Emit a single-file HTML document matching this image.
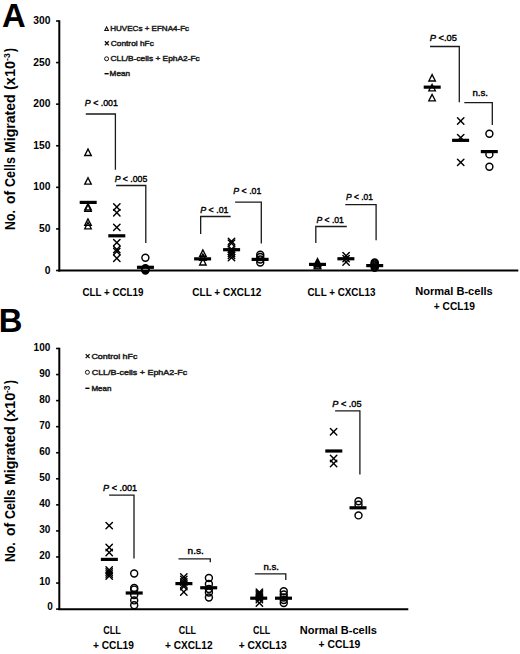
<!DOCTYPE html><html><head><meta charset="utf-8"><style>
html,body{margin:0;padding:0;background:#fff;}svg{display:block;}
text{font-family:"Liberation Sans", sans-serif;fill:#000;}
.ax{stroke:#000;stroke-width:2;fill:none}.tk{stroke:#000;stroke-width:1.6;fill:none}
.br{stroke:#1a1a1a;stroke-width:1.3;fill:none;stroke-linejoin:miter}
.tri{fill:none;stroke:#000;stroke-width:1.35;stroke-linejoin:miter}
.crs{fill:none;stroke:#000;stroke-width:1.45;stroke-linecap:round}
.cir{fill:none;stroke:#000;stroke-width:1.45}
.ltri{fill:none;stroke:#111;stroke-width:1.1}.lcrs{fill:none;stroke:#111;stroke-width:1.3}.lcir{fill:none;stroke:#111;stroke-width:1.0}
.m{fill:#000}
</style></head><body>
<svg width="520" height="654" viewBox="0 0 520 654">
<rect x="0" y="0" width="520" height="654" fill="#fff"/>
<path class="ax" d="M59.3 20.30L59.3 271.5"/>
<path class="ax" d="M58.1 270.6L518.3 270.6"/>
<path class="tk" d="M56.10 270.50L59.30 270.50"/>
<path class="tk" d="M56.10 228.92L59.30 228.92"/>
<path class="tk" d="M56.10 187.33L59.30 187.33"/>
<path class="tk" d="M56.10 145.75L59.30 145.75"/>
<path class="tk" d="M56.10 104.17L59.30 104.17"/>
<path class="tk" d="M56.10 62.58L59.30 62.58"/>
<path class="tk" d="M56.10 21.00L59.30 21.00"/>
<path class="ax" d="M59.3 347.80L59.3 610"/>
<path class="ax" d="M58.1 609.2L408.3 609.2"/>
<path class="tk" d="M56.10 609.10L59.30 609.10"/>
<path class="tk" d="M56.10 583.04L59.30 583.04"/>
<path class="tk" d="M56.10 556.98L59.30 556.98"/>
<path class="tk" d="M56.10 530.92L59.30 530.92"/>
<path class="tk" d="M56.10 504.86L59.30 504.86"/>
<path class="tk" d="M56.10 478.80L59.30 478.80"/>
<path class="tk" d="M56.10 452.74L59.30 452.74"/>
<path class="tk" d="M56.10 426.68L59.30 426.68"/>
<path class="tk" d="M56.10 400.62L59.30 400.62"/>
<path class="tk" d="M56.10 374.56L59.30 374.56"/>
<path class="tk" d="M56.10 348.50L59.30 348.50"/>
<path class="tri" d="M88.00 149.10L84.75 155.50L91.25 155.50Z"/>
<path class="tri" d="M88.00 177.70L84.75 184.10L91.25 184.10Z"/>
<path class="tri" d="M88.00 203.50L84.75 209.90L91.25 209.90Z"/>
<path class="tri" d="M88.00 204.80L84.75 211.20L91.25 211.20Z"/>
<path class="tri" d="M88.00 218.90L84.75 225.30L91.25 225.30Z"/>
<path class="tri" d="M88.00 222.40L84.75 228.80L91.25 228.80Z"/>
<rect class="m" x="79.70" y="200.80" width="17.00" height="3.20"/>
<path class="crs" d="M113.60 203.80L120.00 210.20"/>
<path class="crs" d="M113.60 210.20L120.00 203.80"/>
<path class="crs" d="M113.60 209.60L120.00 216.00"/>
<path class="crs" d="M113.60 216.00L120.00 209.60"/>
<path class="crs" d="M113.60 224.20L120.00 230.60"/>
<path class="crs" d="M113.60 230.60L120.00 224.20"/>
<path class="crs" d="M113.60 239.40L120.00 245.80"/>
<path class="crs" d="M113.60 245.80L120.00 239.40"/>
<path class="crs" d="M113.60 246.30L120.00 252.70"/>
<path class="crs" d="M113.60 252.70L120.00 246.30"/>
<path class="crs" d="M113.60 248.30L120.00 254.70"/>
<path class="crs" d="M113.60 254.70L120.00 248.30"/>
<path class="crs" d="M113.60 255.10L120.00 261.50"/>
<path class="crs" d="M113.60 261.50L120.00 255.10"/>
<rect class="m" x="108.30" y="234.20" width="17.00" height="3.20"/>
<circle class="cir" cx="145.40" cy="257.75" r="3.48"/>
<circle class="cir" cx="145.40" cy="268.20" r="3.48"/>
<circle class="cir" cx="145.40" cy="269.00" r="3.48"/>
<circle class="cir" cx="145.40" cy="269.80" r="3.48"/>
<circle class="cir" cx="145.40" cy="270.60" r="3.48"/>
<rect class="m" x="136.95" y="265.70" width="17.00" height="3.20"/>
<path class="br" d="M85.80 114.00L115.40 114.00L115.40 169.80"/>
<path class="br" d="M116.10 185.50L145.80 185.50L145.80 243.00"/>
<path class="tri" d="M202.90 249.90L199.65 256.30L206.15 256.30Z"/>
<path class="tri" d="M202.90 253.90L199.65 260.30L206.15 260.30Z"/>
<path class="tri" d="M202.90 258.60L199.65 265.00L206.15 265.00Z"/>
<rect class="m" x="194.10" y="257.25" width="17.00" height="3.20"/>
<path class="crs" d="M228.30 238.20L234.70 244.60"/>
<path class="crs" d="M228.30 244.60L234.70 238.20"/>
<path class="crs" d="M228.30 240.10L234.70 246.50"/>
<path class="crs" d="M228.30 246.50L234.70 240.10"/>
<path class="crs" d="M228.30 246.00L234.70 252.40"/>
<path class="crs" d="M228.30 252.40L234.70 246.00"/>
<path class="crs" d="M228.30 248.00L234.70 254.40"/>
<path class="crs" d="M228.30 254.40L234.70 248.00"/>
<path class="crs" d="M228.30 250.10L234.70 256.50"/>
<path class="crs" d="M228.30 256.50L234.70 250.10"/>
<path class="crs" d="M228.30 252.10L234.70 258.50"/>
<path class="crs" d="M228.30 258.50L234.70 252.10"/>
<path class="crs" d="M228.30 254.40L234.70 260.80"/>
<path class="crs" d="M228.30 260.80L234.70 254.40"/>
<rect class="m" x="223.10" y="248.10" width="17.00" height="3.20"/>
<circle class="cir" cx="260.25" cy="254.70" r="3.48"/>
<circle class="cir" cx="260.25" cy="257.00" r="3.48"/>
<circle class="cir" cx="260.25" cy="259.50" r="3.48"/>
<circle class="cir" cx="260.25" cy="262.60" r="3.48"/>
<rect class="m" x="251.60" y="257.80" width="17.00" height="3.20"/>
<path class="br" d="M200.65 234.00L200.65 216.50L230.70 216.50"/>
<path class="br" d="M235.10 202.20L261.30 202.20L261.30 243.40"/>
<path class="tri" d="M317.50 258.50L314.25 264.90L320.75 264.90Z"/>
<path class="tri" d="M317.50 259.90L314.25 266.30L320.75 266.30Z"/>
<path class="tri" d="M317.50 261.40L314.25 267.80L320.75 267.80Z"/>
<path class="tri" d="M317.50 262.50L314.25 268.90L320.75 268.90Z"/>
<rect class="m" x="309.00" y="262.80" width="17.00" height="3.20"/>
<path class="crs" d="M342.90 252.60L349.30 259.00"/>
<path class="crs" d="M342.90 259.00L349.30 252.60"/>
<path class="crs" d="M342.90 255.40L349.30 261.80"/>
<path class="crs" d="M342.90 261.80L349.30 255.40"/>
<path class="crs" d="M342.90 258.80L349.30 265.20"/>
<path class="crs" d="M342.90 265.20L349.30 258.80"/>
<rect class="m" x="337.40" y="257.15" width="17.00" height="3.20"/>
<circle class="cir" cx="374.70" cy="262.40" r="3.48"/>
<circle class="cir" cx="374.70" cy="263.50" r="3.48"/>
<circle class="cir" cx="374.70" cy="264.60" r="3.48"/>
<circle class="cir" cx="374.70" cy="265.60" r="3.48"/>
<circle class="cir" cx="374.70" cy="266.60" r="3.48"/>
<circle class="cir" cx="374.70" cy="267.70" r="3.48"/>
<rect class="m" x="366.20" y="264.00" width="17.00" height="3.20"/>
<path class="br" d="M315.80 243.10L315.80 226.50L346.80 226.50"/>
<path class="br" d="M345.30 204.60L376.10 204.60L376.10 240.30"/>
<path class="tri" d="M432.10 74.60L428.85 81.00L435.35 81.00Z"/>
<path class="tri" d="M432.10 84.40L428.85 90.80L435.35 90.80Z"/>
<path class="tri" d="M432.10 94.40L428.85 100.80L435.35 100.80Z"/>
<rect class="m" x="423.70" y="85.55" width="17.00" height="3.20"/>
<path class="crs" d="M457.50 117.80L463.90 124.20"/>
<path class="crs" d="M457.50 124.20L463.90 117.80"/>
<path class="crs" d="M457.50 134.40L463.90 140.80"/>
<path class="crs" d="M457.50 140.80L463.90 134.40"/>
<path class="crs" d="M457.50 159.20L463.90 165.60"/>
<path class="crs" d="M457.50 165.60L463.90 159.20"/>
<rect class="m" x="452.10" y="138.75" width="17.00" height="3.20"/>
<circle class="cir" cx="489.40" cy="133.80" r="3.48"/>
<circle class="cir" cx="489.40" cy="154.40" r="3.48"/>
<circle class="cir" cx="489.40" cy="166.70" r="3.48"/>
<rect class="m" x="480.80" y="150.00" width="17.00" height="3.20"/>
<path class="br" d="M430.00 46.50L459.30 46.50L459.30 102.20"/>
<path class="br" d="M464.30 102.60L492.30 102.60L492.30 125.00"/>
<path class="crs" d="M106.00 522.40L112.40 528.80"/>
<path class="crs" d="M106.00 528.80L112.40 522.40"/>
<path class="crs" d="M106.00 544.30L112.40 550.70"/>
<path class="crs" d="M106.00 550.70L112.40 544.30"/>
<path class="crs" d="M106.00 549.30L112.40 555.70"/>
<path class="crs" d="M106.00 555.70L112.40 549.30"/>
<path class="crs" d="M106.00 566.80L112.40 573.20"/>
<path class="crs" d="M106.00 573.20L112.40 566.80"/>
<path class="crs" d="M106.00 568.80L112.40 575.20"/>
<path class="crs" d="M106.00 575.20L112.40 568.80"/>
<path class="crs" d="M106.00 570.80L112.40 577.20"/>
<path class="crs" d="M106.00 577.20L112.40 570.80"/>
<path class="crs" d="M106.00 572.80L112.40 579.20"/>
<path class="crs" d="M106.00 579.20L112.40 572.80"/>
<rect class="m" x="100.85" y="557.80" width="17.00" height="3.20"/>
<circle class="cir" cx="134.20" cy="573.50" r="3.48"/>
<circle class="cir" cx="134.20" cy="588.00" r="3.48"/>
<circle class="cir" cx="134.20" cy="589.60" r="3.48"/>
<circle class="cir" cx="134.20" cy="595.00" r="3.48"/>
<circle class="cir" cx="134.20" cy="600.40" r="3.48"/>
<circle class="cir" cx="134.20" cy="605.20" r="3.48"/>
<rect class="m" x="125.70" y="591.40" width="17.00" height="3.20"/>
<path class="br" d="M109.10 495.20L134.00 495.20L134.00 558.60"/>
<path class="crs" d="M180.60 573.80L187.00 580.20"/>
<path class="crs" d="M180.60 580.20L187.00 573.80"/>
<path class="crs" d="M180.60 576.30L187.00 582.70"/>
<path class="crs" d="M180.60 582.70L187.00 576.30"/>
<path class="crs" d="M180.60 578.80L187.00 585.20"/>
<path class="crs" d="M180.60 585.20L187.00 578.80"/>
<path class="crs" d="M180.60 581.30L187.00 587.70"/>
<path class="crs" d="M180.60 587.70L187.00 581.30"/>
<path class="crs" d="M180.60 583.30L187.00 589.70"/>
<path class="crs" d="M180.60 589.70L187.00 583.30"/>
<path class="crs" d="M180.60 588.80L187.00 595.20"/>
<path class="crs" d="M180.60 595.20L187.00 588.80"/>
<rect class="m" x="175.40" y="582.00" width="17.00" height="3.20"/>
<circle class="cir" cx="208.90" cy="578.00" r="3.48"/>
<circle class="cir" cx="208.90" cy="584.00" r="3.48"/>
<circle class="cir" cx="208.90" cy="589.00" r="3.48"/>
<circle class="cir" cx="208.90" cy="592.50" r="3.48"/>
<circle class="cir" cx="208.90" cy="597.50" r="3.48"/>
<rect class="m" x="200.20" y="586.15" width="17.00" height="3.20"/>
<path class="br" d="M178.50 558.90L210.30 558.90L210.30 562.30"/>
<path class="crs" d="M256.20 589.10L262.60 595.50"/>
<path class="crs" d="M256.20 595.50L262.60 589.10"/>
<path class="crs" d="M256.20 590.40L262.60 596.80"/>
<path class="crs" d="M256.20 596.80L262.60 590.40"/>
<path class="crs" d="M256.20 591.70L262.60 598.10"/>
<path class="crs" d="M256.20 598.10L262.60 591.70"/>
<path class="crs" d="M256.20 593.10L262.60 599.50"/>
<path class="crs" d="M256.20 599.50L262.60 593.10"/>
<path class="crs" d="M256.20 594.60L262.60 601.00"/>
<path class="crs" d="M256.20 601.00L262.60 594.60"/>
<path class="crs" d="M256.20 596.30L262.60 602.70"/>
<path class="crs" d="M256.20 602.70L262.60 596.30"/>
<path class="crs" d="M256.20 599.80L262.60 606.20"/>
<path class="crs" d="M256.20 606.20L262.60 599.80"/>
<rect class="m" x="250.20" y="596.60" width="17.00" height="3.20"/>
<circle class="cir" cx="283.75" cy="591.30" r="3.48"/>
<circle class="cir" cx="283.75" cy="594.50" r="3.48"/>
<circle class="cir" cx="283.75" cy="597.50" r="3.48"/>
<circle class="cir" cx="283.75" cy="600.00" r="3.48"/>
<circle class="cir" cx="283.75" cy="603.10" r="3.48"/>
<rect class="m" x="275.00" y="596.60" width="17.00" height="3.20"/>
<path class="br" d="M254.80 573.90L285.80 573.90L285.80 580.10"/>
<path class="crs" d="M330.40 428.50L336.80 434.90"/>
<path class="crs" d="M330.40 434.90L336.80 428.50"/>
<path class="crs" d="M330.40 455.30L336.80 461.70"/>
<path class="crs" d="M330.40 461.70L336.80 455.30"/>
<path class="crs" d="M330.40 460.30L336.80 466.70"/>
<path class="crs" d="M330.40 466.70L336.80 460.30"/>
<rect class="m" x="325.30" y="449.40" width="17.00" height="3.20"/>
<circle class="cir" cx="358.50" cy="501.20" r="3.48"/>
<circle class="cir" cx="358.50" cy="504.80" r="3.48"/>
<circle class="cir" cx="358.50" cy="515.40" r="3.48"/>
<rect class="m" x="349.50" y="506.20" width="17.00" height="3.20"/>
<path class="br" d="M335.10 410.90L359.90 410.90L359.90 474.40"/>
<path class="ltri" d="M106.60 27.05L104.80 30.50L108.40 30.50Z"/>
<path class="lcrs" d="M104.90 41.30L108.80 45.30M104.90 45.30L108.80 41.30"/>
<circle class="lcir" cx="106.60" cy="58.80" r="2.0"/>
<rect class="m" x="104.55" y="73.00" width="4.1" height="1.4"/>
<path class="lcrs" d="M85.70 354.10L89.60 358.10M85.70 358.10L89.60 354.10"/>
<circle class="lcir" cx="87.40" cy="372.30" r="2.0"/>
<rect class="m" x="85.35" y="387.60" width="4.1" height="1.4"/>
<text id="lA" x="2.02" y="27.10" font-size="32.80" font-weight="bold">A</text>
<text id="lB" x="-1.29" y="332.40" font-size="32.80" font-weight="bold">B</text>
<text id="ta300" x="50.50" y="24.10" font-size="10.30" font-weight="bold" text-anchor="end">300</text>
<text id="ta250" x="50.50" y="65.68" font-size="10.30" font-weight="bold" text-anchor="end">250</text>
<text id="ta200" x="50.50" y="107.27" font-size="10.30" font-weight="bold" text-anchor="end">200</text>
<text id="ta150" x="50.50" y="148.85" font-size="10.30" font-weight="bold" text-anchor="end">150</text>
<text id="ta100" x="50.50" y="190.43" font-size="10.30" font-weight="bold" text-anchor="end">100</text>
<text id="ta50" x="50.50" y="232.02" font-size="10.30" font-weight="bold" text-anchor="end">50</text>
<text id="ta0" x="50.50" y="273.60" font-size="10.30" font-weight="bold" text-anchor="end">0</text>
<text id="tb100" x="50.30" y="350.50" font-size="10.00" font-weight="bold" text-anchor="end">100</text>
<text id="tb90" x="50.30" y="376.56" font-size="10.00" font-weight="bold" text-anchor="end">90</text>
<text id="tb80" x="50.30" y="402.62" font-size="10.00" font-weight="bold" text-anchor="end">80</text>
<text id="tb70" x="50.30" y="428.68" font-size="10.00" font-weight="bold" text-anchor="end">70</text>
<text id="tb60" x="50.30" y="454.74" font-size="10.00" font-weight="bold" text-anchor="end">60</text>
<text id="tb50" x="50.30" y="480.80" font-size="10.00" font-weight="bold" text-anchor="end">50</text>
<text id="tb40" x="50.30" y="506.86" font-size="10.00" font-weight="bold" text-anchor="end">40</text>
<text id="tb30" x="50.30" y="532.92" font-size="10.00" font-weight="bold" text-anchor="end">30</text>
<text id="tb20" x="50.30" y="558.98" font-size="10.00" font-weight="bold" text-anchor="end">20</text>
<text id="tb10" x="50.30" y="585.04" font-size="10.00" font-weight="bold" text-anchor="end">10</text>
<text id="tb0" x="52.80" y="610.40" font-size="10.00" font-weight="bold" text-anchor="end">0</text>
<text id="legA0" x="110.26" y="31.40" font-size="7.50" font-weight="normal" textLength="78.84" lengthAdjust="spacingAndGlyphs" style="fill:#222;stroke:#222;stroke-width:0.45">HUVECs + EFNA4-Fc</text>
<text id="legA1" x="110.79" y="45.80" font-size="7.50" font-weight="normal" textLength="43.01" lengthAdjust="spacingAndGlyphs" style="fill:#222;stroke:#222;stroke-width:0.45">Control hFc</text>
<text id="legA2" x="110.48" y="61.30" font-size="7.50" font-weight="normal" textLength="89.21" lengthAdjust="spacingAndGlyphs" style="fill:#222;stroke:#222;stroke-width:0.45">CLL/B-cells + EphA2-Fc</text>
<text id="legA3" x="109.64" y="76.00" font-size="7.50" font-weight="normal" textLength="20.38" lengthAdjust="spacingAndGlyphs" style="fill:#222;stroke:#222;stroke-width:0.45">Mean</text>
<text id="legB0" x="91.42" y="358.60" font-size="7.60" font-weight="normal" textLength="46.05" lengthAdjust="spacingAndGlyphs" style="fill:#222;stroke:#222;stroke-width:0.45">Control hFc</text>
<text id="legB1" x="91.72" y="374.80" font-size="7.60" font-weight="normal" textLength="95.39" lengthAdjust="spacingAndGlyphs" style="fill:#222;stroke:#222;stroke-width:0.45">CLL/B-cells + EphA2-Fc</text>
<text id="legB2" x="91.42" y="390.60" font-size="7.60" font-weight="normal" textLength="19.93" lengthAdjust="spacingAndGlyphs" style="fill:#222;stroke:#222;stroke-width:0.45">Mean</text>
<text id="pA1" x="84.86" y="106.40" font-size="9.30" font-weight="normal" textLength="33.06" lengthAdjust="spacingAndGlyphs" style="stroke:#000;stroke-width:0.4"><tspan font-style="italic">P</tspan> &lt; .001</text>
<text id="pA2" x="114.64" y="181.90" font-size="9.30" font-weight="normal" textLength="32.66" lengthAdjust="spacingAndGlyphs" style="stroke:#000;stroke-width:0.4"><tspan font-style="italic">P</tspan> &lt; .005</text>
<text id="pA3" x="200.25" y="212.70" font-size="9.30" font-weight="normal" textLength="28.24" lengthAdjust="spacingAndGlyphs" style="stroke:#000;stroke-width:0.4"><tspan font-style="italic">P</tspan> &lt; .01</text>
<text id="pA4" x="233.30" y="194.10" font-size="9.30" font-weight="normal" textLength="28.05" lengthAdjust="spacingAndGlyphs" style="stroke:#000;stroke-width:0.4"><tspan font-style="italic">P</tspan> &lt; .01</text>
<text id="pA5" x="316.38" y="222.60" font-size="9.30" font-weight="normal" textLength="27.48" lengthAdjust="spacingAndGlyphs" style="stroke:#000;stroke-width:0.4"><tspan font-style="italic">P</tspan> &lt; .01</text>
<text id="pA6" x="346.06" y="200.00" font-size="9.30" font-weight="normal" textLength="26.93" lengthAdjust="spacingAndGlyphs" style="stroke:#000;stroke-width:0.4"><tspan font-style="italic">P</tspan> &lt; .01</text>
<text id="pA7" x="429.73" y="41.00" font-size="9.30" font-weight="normal" textLength="27.20" lengthAdjust="spacingAndGlyphs" style="stroke:#000;stroke-width:0.4"><tspan font-style="italic">P</tspan> &lt;.05</text>
<text id="pB1" x="103.07" y="490.90" font-size="9.30" font-weight="normal" textLength="34.08" lengthAdjust="spacingAndGlyphs" style="stroke:#000;stroke-width:0.4"><tspan font-style="italic">P</tspan> &lt; .001</text>
<text id="pB2" x="332.24" y="406.90" font-size="9.30" font-weight="normal" textLength="29.32" lengthAdjust="spacingAndGlyphs" style="stroke:#000;stroke-width:0.4"><tspan font-style="italic">P</tspan> &lt; .05</text>
<text id="nsA" x="472.40" y="96.45" font-size="9.60" font-weight="normal" textLength="15.53" lengthAdjust="spacingAndGlyphs" style="stroke:#000;stroke-width:0.4">n.s.</text>
<text id="nsB1" x="187.53" y="553.50" font-size="9.60" font-weight="normal" textLength="16.29" lengthAdjust="spacingAndGlyphs" style="stroke:#000;stroke-width:0.4">n.s.</text>
<text id="nsB2" x="263.40" y="569.50" font-size="9.60" font-weight="normal" textLength="15.53" lengthAdjust="spacingAndGlyphs" style="stroke:#000;stroke-width:0.4">n.s.</text>
<text id="xA1" x="82.50" y="295.80" font-size="11.80" font-weight="bold" textLength="60.95" lengthAdjust="spacingAndGlyphs">CLL + CCL19</text>
<text id="xA2" x="192.35" y="296.20" font-size="11.80" font-weight="bold" textLength="68.92" lengthAdjust="spacingAndGlyphs">CLL + CXCL12</text>
<text id="xA3" x="307.52" y="296.00" font-size="11.80" font-weight="bold" textLength="67.92" lengthAdjust="spacingAndGlyphs">CLL + CXCL13</text>
<text id="xA4" x="415.20" y="294.80" font-size="11.80" font-weight="bold" textLength="77.54" lengthAdjust="spacingAndGlyphs">Normal B-cells</text>
<text id="xA5" x="433.84" y="310.00" font-size="11.80" font-weight="bold" textLength="41.11" lengthAdjust="spacingAndGlyphs">+ CCL19</text>
<text id="xB1" x="103.21" y="633.50" font-size="11.80" font-weight="bold" textLength="17.62" lengthAdjust="spacingAndGlyphs">CLL</text>
<text id="xB2" x="92.98" y="648.80" font-size="11.80" font-weight="bold" textLength="40.95" lengthAdjust="spacingAndGlyphs">+ CCL19</text>
<text id="xB3" x="178.70" y="633.50" font-size="11.80" font-weight="bold" textLength="17.33" lengthAdjust="spacingAndGlyphs">CLL</text>
<text id="xB4" x="165.03" y="648.80" font-size="11.80" font-weight="bold" textLength="47.55" lengthAdjust="spacingAndGlyphs">+ CXCL12</text>
<text id="xB5" x="253.03" y="633.50" font-size="11.80" font-weight="bold" textLength="17.27" lengthAdjust="spacingAndGlyphs">CLL</text>
<text id="xB6" x="238.65" y="648.80" font-size="11.80" font-weight="bold" textLength="48.09" lengthAdjust="spacingAndGlyphs">+ CXCL13</text>
<text id="xB7" x="299.73" y="633.50" font-size="11.80" font-weight="bold" textLength="77.20" lengthAdjust="spacingAndGlyphs">Normal B-cells</text>
<text id="xB8" x="318.60" y="648.20" font-size="11.80" font-weight="bold" textLength="41.78" lengthAdjust="spacingAndGlyphs">+ CCL19</text>
<text id="ytA0" transform="translate(15.40 230.00) rotate(-90)" x="0" y="0" font-size="14.70" font-weight="bold" textLength="19.91" lengthAdjust="spacingAndGlyphs">No.</text>
<text id="ytA1" transform="translate(15.40 204.00) rotate(-90)" x="0" y="0" font-size="14.70" font-weight="bold" textLength="13.09" lengthAdjust="spacingAndGlyphs">of</text>
<text id="ytA2" transform="translate(15.40 187.00) rotate(-90)" x="0" y="0" font-size="14.70" font-weight="bold" textLength="30.03" lengthAdjust="spacingAndGlyphs">Cells</text>
<text id="ytA3" transform="translate(15.40 153.00) rotate(-90)" x="0" y="0" font-size="14.70" font-weight="bold" textLength="58.69" lengthAdjust="spacingAndGlyphs">Migrated</text>
<text id="ytA4" transform="translate(15.40 90.00) rotate(-90)" x="0" y="0" font-size="14.70" font-weight="bold" textLength="29.05" lengthAdjust="spacingAndGlyphs">(x10</text>
<text id="ytA5" transform="translate(9.90 61.00) rotate(-90)" x="0" y="0" font-size="9.00" font-weight="bold" textLength="7.71" lengthAdjust="spacingAndGlyphs">-3</text>
<text id="ytA6" transform="translate(15.40 52.00) rotate(-90)" x="0" y="0" font-size="14.70" font-weight="bold" textLength="3.88" lengthAdjust="spacingAndGlyphs">)</text>
<text id="ytB0" transform="translate(15.40 562.00) rotate(-90)" x="0" y="0" font-size="14.70" font-weight="bold" textLength="19.69" lengthAdjust="spacingAndGlyphs">No.</text>
<text id="ytB1" transform="translate(15.40 536.00) rotate(-90)" x="0" y="0" font-size="14.70" font-weight="bold" textLength="13.21" lengthAdjust="spacingAndGlyphs">of</text>
<text id="ytB2" transform="translate(15.40 519.00) rotate(-90)" x="0" y="0" font-size="14.70" font-weight="bold" textLength="29.71" lengthAdjust="spacingAndGlyphs">Cells</text>
<text id="ytB3" transform="translate(15.40 485.00) rotate(-90)" x="0" y="0" font-size="14.70" font-weight="bold" textLength="58.70" lengthAdjust="spacingAndGlyphs">Migrated</text>
<text id="ytB4" transform="translate(15.40 422.00) rotate(-90)" x="0" y="0" font-size="14.70" font-weight="bold" textLength="29.29" lengthAdjust="spacingAndGlyphs">(x10</text>
<text id="ytB5" transform="translate(9.90 393.00) rotate(-90)" x="0" y="0" font-size="9.00" font-weight="bold" textLength="7.45" lengthAdjust="spacingAndGlyphs">-3</text>
<text id="ytB6" transform="translate(15.40 384.00) rotate(-90)" x="0" y="0" font-size="14.70" font-weight="bold" textLength="3.90" lengthAdjust="spacingAndGlyphs">)</text>
</svg></body></html>
